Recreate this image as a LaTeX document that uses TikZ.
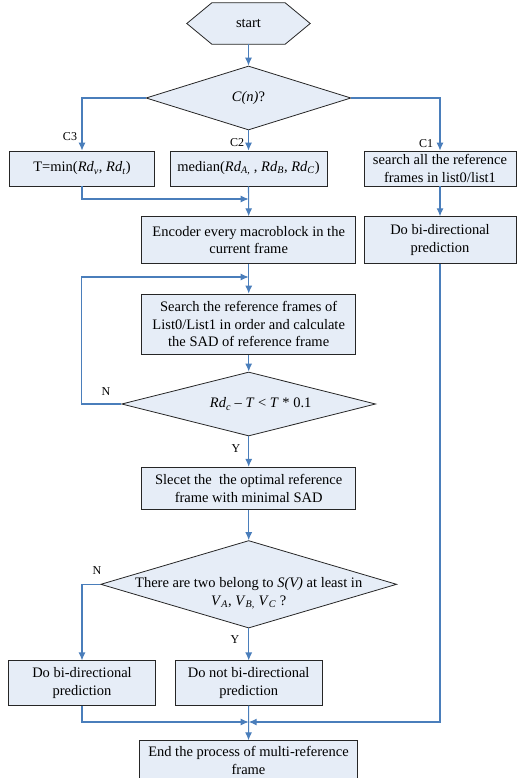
\documentclass[tikz,border=0pt]{standalone}
\usepackage{fontspec}
\setmainfont{Liberation Serif}
\usetikzlibrary{shapes.geometric,arrows.meta,backgrounds}
\definecolor{flowblue}{HTML}{4A7EBB}
\definecolor{boxfill}{HTML}{E6EDF7}

\begin{document}
\begin{tikzpicture}[x=1pt, y=-1pt,
  txt/.style={font=\fontsize{14.5}{17.6}\selectfont, align=center, inner sep=0pt},
  box/.style={txt, draw=black!85, fill=boxfill, line width=0.8pt},
  decision/.style={diamond, draw=black!85, fill=boxfill, line width=0.8pt, inner sep=0pt},
  flow/.style={draw=flowblue, line width=1.1pt, -{Latex[length=8pt,width=7pt]}},
  tag/.style={font=\fontsize{12}{14}\selectfont, inner sep=0pt}]
\useasboundingbox (0,0) rectangle (517,778);

% start
\node[txt, minimum width=123pt, minimum height=41pt] (start) at (248.5,23.5) {start};
\begin{scope}[on background layer]
\filldraw[draw=black!85, fill=boxfill, line width=0.8pt] (start.west) -- ([xshift=25pt]start.north west) -- ([xshift=-25pt]start.north east) -- (start.east) -- ([xshift=-25pt]start.south east) -- ([xshift=25pt]start.south west) -- cycle;
\end{scope}

% first decision and its three cases
\node[decision, minimum width=205pt, minimum height=64pt] (cond) at (248.5,98) {};
\node[txt] (condtxt) at (cond) {\textit{C(n)}?};
\node[box, minimum width=145pt, minimum height=35pt] (tmin) at (82,168.5) {T=min(\textit{Rd}\textsubscript{\textit{v}}, \textit{Rd}\textsubscript{\textit{t}})};
\node[box, minimum width=157pt, minimum height=35pt] (median) at (248.5,168.5) {median(\textit{Rd}\textsubscript{\textit{A,}} , \textit{Rd}\textsubscript{\textit{B}}, \textit{Rd}\textsubscript{\textit{C}})};
\node[box, minimum width=152pt, minimum height=35pt] (searchall) at (440,168.5) {search all the reference\\frames in list0/list1};
\node[tag] (c3) at (70,137) {C3};
\node[tag] (c2) at (237,143) {C2};
\node[tag] (c1) at (426,144) {C1};

% main column
\node[box, minimum width=214pt, minimum height=46.6pt] (encoder) at (248.7,240) {Encoder every macroblock in the\\current frame};
\node[box, minimum width=152pt, minimum height=46.6pt] (bidirR) at (440,240) {Do bi-directional\\prediction};
\node[box, minimum width=214pt, minimum height=60.3pt] (searchref) at (248.7,324.2) {Search the reference frames of\\List0/List1 in order and calculate\\the SAD of reference frame};
\node[decision, minimum width=254pt, minimum height=64pt] (check) at (248.7,404) {};
\node[txt] (checktxt) at ([xshift=12pt]check.center) {\textit{Rd}\textsubscript{\textit{c}} – \textit{T} < \textit{T} * 0.1};
\node[tag] (n1) at (106,392) {N};
\node[tag] (y1) at (236,449) {Y};
\node[box, minimum width=214pt, minimum height=42.4pt] (select) at (248.7,488.5) {Slecet the\ \ the optimal reference\\frame with minimal SAD};
\node[decision, minimum width=296pt, minimum height=87.5pt] (belong) at (248.7,584.3) {};
\node[txt] (belongtxt) at ([yshift=-9pt]belong.center) {There are two belong to \textit{S(V)} at least in\\\textit{V}\textsubscript{\textit{A}}, \textit{V}\textsubscript{\textit{B,}} \textit{V}\textsubscript{\textit{C}} ?};
\node[tag] (n2) at (97,571) {N};
\node[tag] (y2) at (235,640) {Y};
\node[box, minimum width=147pt, minimum height=44.3pt] (bidirL) at (82,683) {Do bi-directional\\prediction};
\node[box, minimum width=147pt, minimum height=44.3pt] (nobidir) at (248.7,683) {Do not bi-directional\\prediction};
\node[box, minimum width=218.4pt, minimum height=39pt] (finish) at (248.5,760.2) {End the process of multi-reference\\frame};

% join points
\coordinate (mergeA) at (248.7,199);
\coordinate (loopin) at (248.7,277);
\coordinate (mergeB) at (248.7,722);

% connectors
\draw[flow] (start.south) -- (cond.north);
\draw[flow] (cond.west) -| (tmin.north);
\draw[flow] (cond.south) -- (median.north);
\draw[flow] (cond.east) -| (searchall.north);
\draw[flow] (tmin.south) |- (mergeA);
\draw[flow] (median.south) -- (encoder.north);
\draw[flow] (searchall.south) -- (bidirR.north);
\draw[flow] (encoder.south) -- (searchref.north);
\draw[flow] (searchref.south) -- (check.north);
\draw[flow] (check.west) -- ++(-40,0) |- (loopin);
\draw[flow] (check.south) -- (select.north);
\draw[flow] (select.south) -- (belong.north);
\draw[flow] (belong.west) -| (bidirL.north);
\draw[flow] (belong.south) -- (nobidir.north);
\draw[flow] (bidirL.south) |- (mergeB);
\draw[flow] (bidirR.south) |- (mergeB);
\draw[flow] (nobidir.south) -- (finish.north);
\end{tikzpicture}
\end{document}
